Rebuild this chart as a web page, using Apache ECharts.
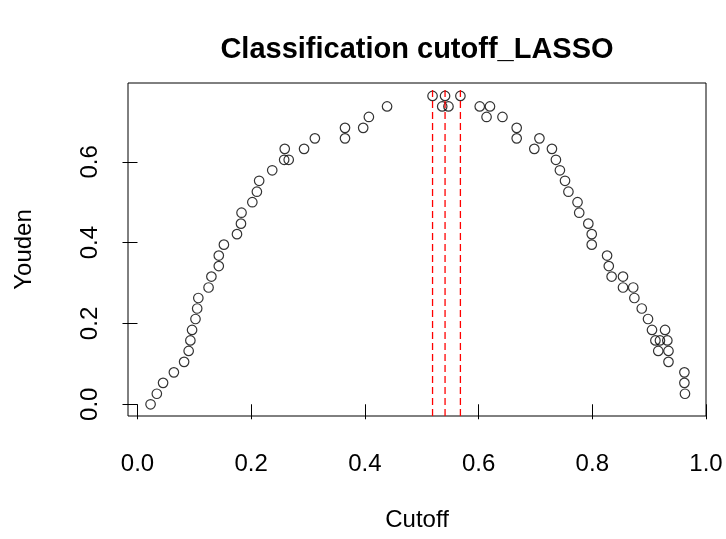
<!DOCTYPE html>
<html><head><meta charset="utf-8">
<script src="https://cdn.jsdelivr.net/npm/echarts@6/dist/echarts.min.js"></script>
<style>html,body{margin:0;padding:0;background:#fff}#c{width:726px;height:539px}</style>
</head><body><div id="c"></div>
<script>
const cutoff = [
  0.023,0.034,0.045,0.064,0.082,0.090,0.093,0.096,0.102,0.105,
  0.107,0.125,0.130,0.143,0.143,0.152,0.175,0.182,0.183,0.202,
  0.210,0.214,0.237,0.258,0.266,0.259,0.293,0.312,0.365,0.365,
  0.397,0.407,0.439,0.519,0.536,0.541,0.547,0.568,
  0.602,0.620,0.614,0.642,0.667,0.667,0.707,0.698,0.729,0.736,
  0.743,0.752,0.758,0.774,0.777,0.793,0.799,0.799,0.826,0.829,
  0.834,0.854,0.854,0.872,0.874,0.887,0.898,0.905,0.928,0.911,
  0.919,0.932,0.916,0.934,0.934,0.962,0.962,0.963
];
const youden = [
  0.000,0.026,0.053,0.079,0.105,0.132,0.158,0.184,0.211,0.237,
  0.263,0.289,0.316,0.342,0.368,0.395,0.421,0.447,0.474,0.500,
  0.526,0.553,0.579,0.605,0.605,0.632,0.632,0.658,0.658,0.684,
  0.684,0.711,0.737,0.763,0.737,0.763,0.737,0.763,
  0.737,0.737,0.711,0.711,0.684,0.658,0.658,0.632,0.632,0.605,
  0.579,0.553,0.526,0.500,0.474,0.447,0.421,0.395,0.368,0.342,
  0.316,0.316,0.289,0.289,0.263,0.237,0.211,0.184,0.184,0.158,
  0.158,0.158,0.132,0.132,0.105,0.079,0.053,0.026
];
const bestCutoffs = [0.519, 0.541, 0.568];
const bestLineTop = 0.778;
const xTicks = [0.0, 0.2, 0.4, 0.6, 0.8, 1.0];
const yTicks = [0.0, 0.2, 0.4, 0.6];
const xRange = [-0.0167, 1.0];
const yRange = [-0.029, 0.795];

const FONT = '"Liberation Sans", Arial, sans-serif';
const chart = echarts.init(document.getElementById('c'), null, {renderer: 'canvas'});

const points = cutoff.map((c, i) => [c, youden[i]]);
const lineSeries = bestCutoffs.map(c => ({
  type: 'line',
  data: [[c, yRange[0]], [c, bestLineTop]],
  symbol: 'none',
  z: 5,
  silent: true,
  lineStyle: {color: '#ff0000', width: 1.3, type: [7, 4]}
}));

chart.setOption({
  animation: false,
  backgroundColor: '#ffffff',
  graphic: [{
    type: 'text', x: 417, y: 50,
    style: {text: 'Classification cutoff_LASSO', font: 'bold 29px ' + FONT,
            fill: '#000', textAlign: 'center', textVerticalAlign: 'middle'}
  }],
  grid: {left: 128, right: 20, top: 83, bottom: 123, show: true,
         borderColor: '#000', borderWidth: 1, backgroundColor: 'transparent'},
  xAxis: {
    type: 'value', min: xRange[0], max: xRange[1],
    name: 'Cutoff', nameLocation: 'middle', nameGap: 92,
    nameTextStyle: {fontFamily: FONT, fontSize: 24, color: '#000'},
    axisLine: {show: false},
    splitLine: {show: false},
    axisTick: {show: true, customValues: xTicks, length: 15, lineStyle: {color: '#000', width: 1}},
    axisLabel: {customValues: xTicks, formatter: v => v.toFixed(1), margin: 36,
                fontFamily: FONT, fontSize: 24, color: '#000'}
  },
  yAxis: {
    type: 'value', min: yRange[0], max: yRange[1],
    name: 'Youden', nameLocation: 'middle', nameGap: 92,
    nameTextStyle: {fontFamily: FONT, fontSize: 24, color: '#000'},
    axisLine: {show: false},
    splitLine: {show: false},
    axisTick: {show: true, customValues: yTicks, length: 15, lineStyle: {color: '#000', width: 1}},
    axisLabel: {customValues: yTicks, formatter: v => v.toFixed(1), rotate: 90, margin: 26,
                fontFamily: FONT, fontSize: 24, color: '#000'}
  },
  series: [{
    type: 'scatter',
    data: points,
    symbol: 'circle',
    symbolSize: 9.5,
    z: 3,
    itemStyle: {color: 'transparent', borderColor: '#000', borderWidth: 1.2}
  }].concat(lineSeries)
});
</script>
</body></html>
